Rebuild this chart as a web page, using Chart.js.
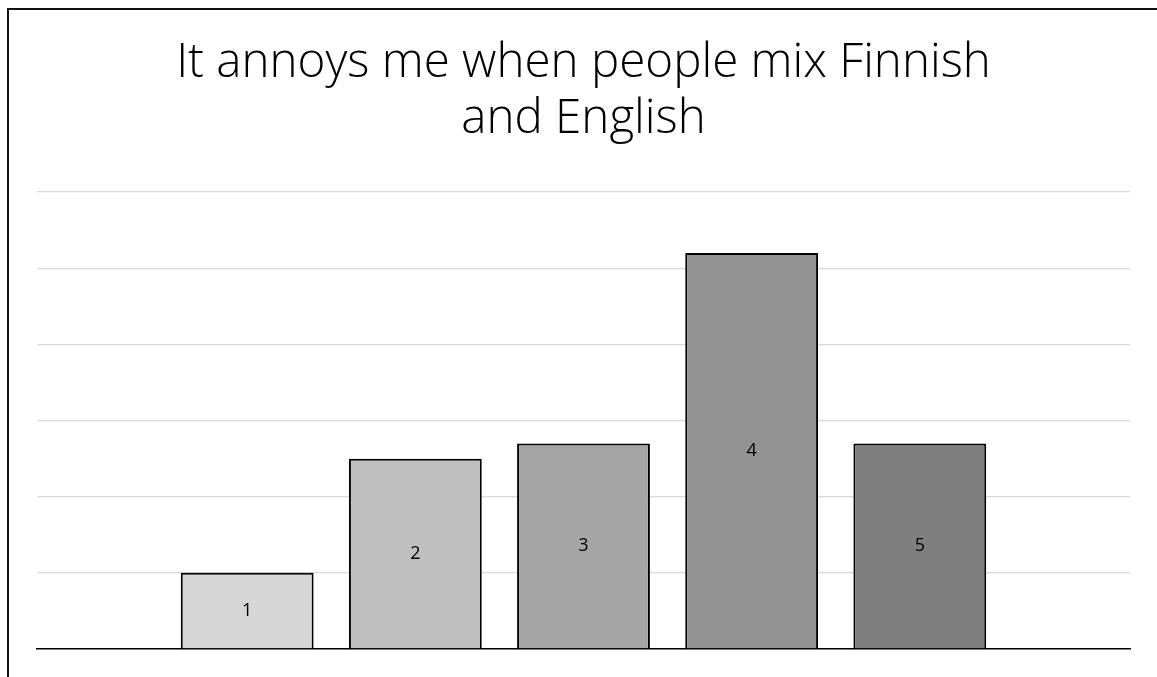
<!DOCTYPE html>
<html>
<head>
<meta charset="utf-8">
<script src="https://cdn.jsdelivr.net/npm/chart.js@4/dist/chart.umd.min.js"></script>
<style>
  html, body { margin: 0; padding: 0; background: #fff; overflow: hidden; }
  #frame {
    position: absolute;
    left: 7px;
    top: 8px;
    width: 1149px;
    height: 700px;
    border: 2px solid #111;
  }
  #chart { display: block; }
</style>
</head>
<body>
<div id="frame">
  <canvas id="chart" width="1149" height="700"></canvas>
</div>
<script>
const TITLE = ["It annoys me when people mix Finnish", "and English"];
const categories = ["1", "2", "3", "4", "5"];
const counts = [10, 25, 27, 52, 27];
const barColors = ["#d6d6d6", "#bfbfbf", "#a5a5a5", "#939393", "#7f7f7f"];

const yMax = 60;
const yStep = 10;

// bars sit on a linear x axis so the outer margins can be wider than a half category
const points = categories.map((c, i) => ({ x: i, y: counts[i] }));

const barLabels = {
  id: "barLabels",
  afterDatasetsDraw(chart) {
    const ctx = chart.ctx;
    const meta = chart.getDatasetMeta(0);
    ctx.save();
    ctx.font = "18px 'Open Sans', sans-serif";
    ctx.fillStyle = "#000";
    ctx.textAlign = "center";
    ctx.textBaseline = "middle";
    meta.data.forEach((bar, i) => {
      const mid = (bar.y + bar.base) / 2;
      ctx.fillText(categories[i], bar.x, mid);
    });
    ctx.restore();
  },
};

new Chart(document.getElementById("chart"), {
  type: "bar",
  data: {
    datasets: [
      {
        data: points,
        backgroundColor: barColors,
        borderColor: "#000",
        borderWidth: 2,
        borderSkipped: "bottom",
        barPercentage: 0.79,
        categoryPercentage: 1,
      },
    ],
  },
  options: {
    responsive: false,
    animation: false,
    layout: { padding: { left: 28, right: 28, top: 0, bottom: 53 } },
    plugins: {
      legend: { display: false },
      tooltip: { enabled: false },
      title: {
        display: true,
        text: TITLE,
        color: "#000",
        font: { family: "'Open Sans', sans-serif", size: 47.5, weight: 300, lineHeight: 1.18 },
        padding: { top: 25, bottom: 45 },
      },
    },
    scales: {
      x: {
        type: "linear",
        min: -1.25,
        max: categories.length + 0.25,
        offset: false,
        ticks: { display: false },
        grid: { display: false, offset: false },
        border: { display: true, color: "#000", width: 1.6 },
      },
      y: {
        min: 0,
        max: yMax,
        ticks: { display: false, stepSize: yStep },
        grid: { color: "#d9d9d9", lineWidth: 1.3, drawTicks: false },
        border: { display: false },
      },
    },
  },
  plugins: [barLabels],
});
</script>
</body>
</html>
